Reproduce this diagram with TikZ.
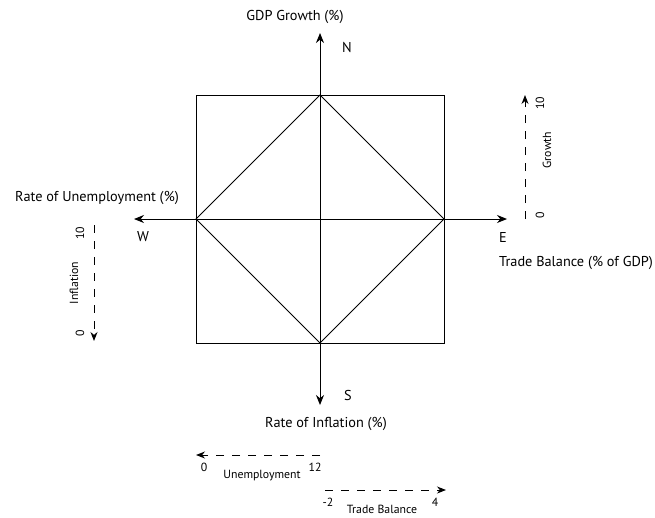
\documentclass[tikz,border=0pt]{standalone}
\usepackage{fontspec}
\setmainfont{PT Sans}
\usetikzlibrary{arrows.meta}
\begin{document}
\begin{tikzpicture}[x=1pt,y=-1pt,
  ln/.style={line width=1pt},
  axis/.style={line width=1pt,-{Stealth[length=10pt,width=8pt]}},
  dax/.style={line width=1pt,dash pattern=on 8pt off 8pt,-{Stealth[length=9pt,width=7pt]}},
  lbl/.style={font=\fontsize{14.3}{16}\selectfont,inner sep=0pt},
  sm/.style={font=\fontsize{11.8}{13}\selectfont,inner sep=0pt}]
\useasboundingbox (0,0) rectangle (655,517);
\coordinate (Nt) at (320,95);
\coordinate (Et) at (444,219);
\coordinate (St) at (320,343);
\coordinate (Wt) at (196,219);
\coordinate (Nend) at (320,33);
\coordinate (Send) at (320,405);
\coordinate (Wend) at (134,219);
\coordinate (Eend) at (507,219);
\draw[ln] (196,95) rectangle (444,343);
\draw[ln] (Nt) -- (Et) -- (St) -- (Wt) -- cycle;
\draw[axis] (St) -- (Nend);
\draw[axis] (Nt) -- (Send);
\draw[axis] (Wt) -- (Eend);
\draw[axis] (Et) -- (Wend);
\node[lbl] (gdp) at (295,17) {GDP Growth (\%)};
\node[lbl] (n) at (347,47) {N};
\node[lbl] (w) at (143,237) {W};
\node[lbl] (e) at (503,237) {E};
\node[lbl] (s) at (348,395) {S};
\node[lbl] (inf) at (326,424) {Rate of Inflation (\%)};
\node[lbl] (unemp) at (97,198) {Rate of Unemployment (\%)};
\node[lbl] (tb) at (576,263) {Trade Balance (\% of GDP)};
% growth
\coordinate (g0) at (525,219);
\coordinate (g1) at (525,95);
\draw[dax] (g0) -- (g1);
\node[sm,rotate=90] (g10) at (540,103) {10};
\node[sm,rotate=90] (g00) at (540,215) {0};
\node[sm,rotate=90] (gl) at (547,150) {Growth};
% inflation
\coordinate (i0) at (94,225);
\coordinate (i1) at (94,341);
\draw[dax] (i0) -- (i1);
\node[sm,rotate=90] (i10) at (80,233) {10};
\node[sm,rotate=90] (i00) at (80,333) {0};
\node[sm,rotate=90] (il) at (74,283) {Inflation};
% unemployment
\coordinate (u0) at (320,455);
\coordinate (u1) at (196,455);
\draw[dax] (u0) -- (u1);
\node[sm] (u0l) at (204,467) {0};
\node[sm] (u12) at (315,467) {12};
\node[sm] (ul) at (262,476) {Unemployment};
% trade balance
\coordinate (t0) at (325,490);
\coordinate (t1) at (446,490);
\draw[dax] (t0) -- (t1);
\node[sm] (tm2) at (328,502) {-2};
\node[sm] (t4) at (435,502) {4};
\node[sm] (tl) at (382,509.5) {Trade Balance};
\end{tikzpicture}
\end{document}
